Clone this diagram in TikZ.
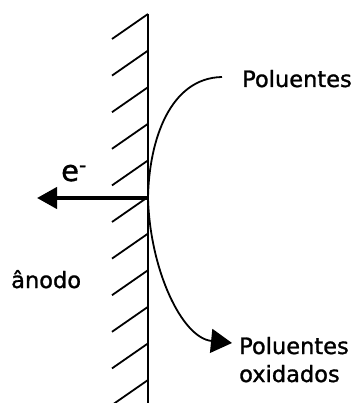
\documentclass[tikz,border=0pt]{standalone}
\usepackage{fontspec}
\setmainfont{DejaVu Sans}[FakeBold=1.2]
\usetikzlibrary{arrows.meta}
\begin{document}
\begin{tikzpicture}[x=1pt,y=-1pt,
  wall/.style={line width=2.4pt},
  hatchline/.style={line width=1.8pt},
  flow/.style={line width=1.8pt,-{Triangle[length=21pt,width=24pt]}},
  electron/.style={line width=4.2pt,-{Triangle[length=20pt,width=21pt]}},
  lbl/.style={inner sep=0pt,anchor=base west,font=\fontsize{22.5}{26}\selectfont}]
\useasboundingbox (0,0) rectangle (359,403);
\coordinate (wtop) at (148,14);
\coordinate (wbot) at (148,405);
\draw[wall] (wtop) -- (wbot);
\foreach \k in {0,...,10}{
  \draw[hatchline] (148,{14+36.6*\k}) -- ++(-36,25);
}
\coordinate (touch) at (148,198);
\coordinate (etip) at (37,198);
\draw[electron] (touch) -- (etip);
\node[lbl,font=\fontsize{29}{32}\selectfont] (e) at (61,181) {e\textsuperscript{-}};
\node[lbl] (pol) at (242,87) {Poluentes};
\node[lbl] (polox) at (239,354) {Poluentes};
\node[lbl] (ox) at (239,382) {oxidados};
\node[lbl] (anodo) at (11,288) {ânodo};
\coordinate (cstart) at (222,77);
\coordinate (cend) at (232,343);
\draw[line width=1.8pt] (cstart) .. controls (170,78) and (149,140) .. (touch);
\draw[flow] (touch) .. controls (150,270) and (182,338) .. (cend);
\end{tikzpicture}
\end{document}
